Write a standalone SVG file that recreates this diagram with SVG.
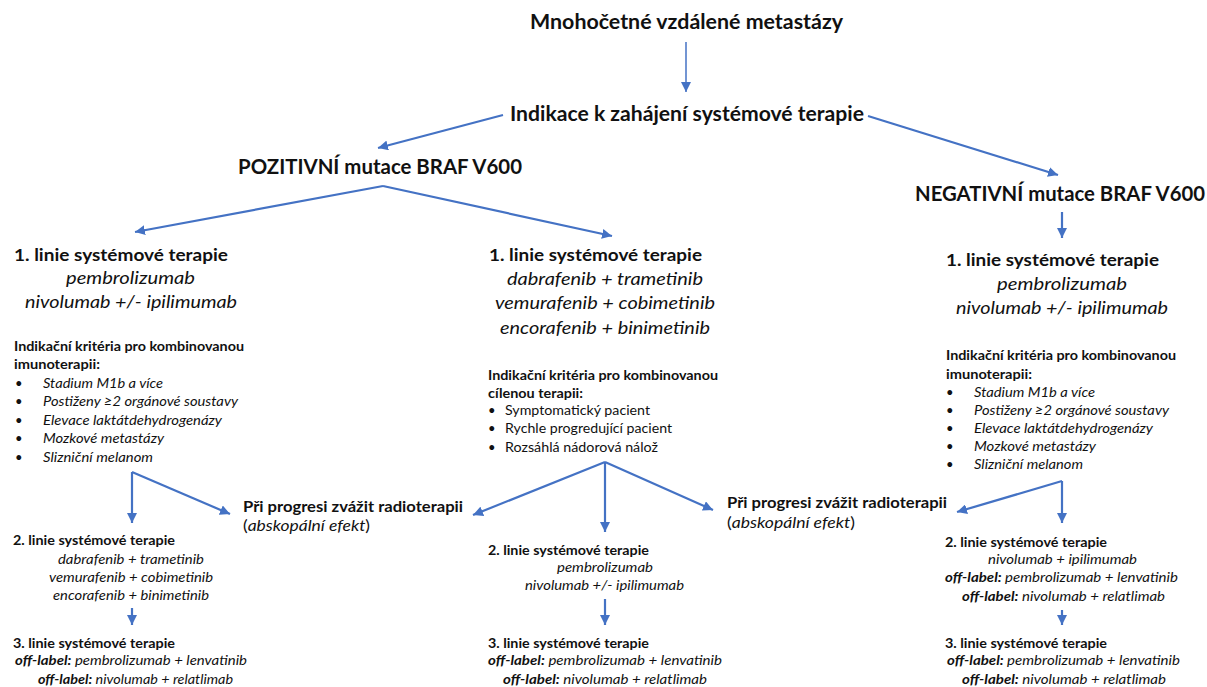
<svg xmlns="http://www.w3.org/2000/svg" width="1207" height="687" viewBox="0 0 1207 687">
<defs>
<marker id="ah" viewBox="0 0 10 10" refX="10" refY="5" markerUnits="userSpaceOnUse" markerWidth="10" markerHeight="10" orient="auto">
<path d="M0,0 L10,5 L0,10 z" fill="#4472C4"/>
</marker>
<style>
text{font-family:Lato,"Open Sans","Liberation Sans",sans-serif;fill:#111;}
.h{font-size:20px;font-weight:bold;}
.t1{font-size:17.5px;font-weight:bold;}
.d1{font-size:18px;font-style:italic;}
.k{font-size:13.5px;font-weight:bold;}
.bi{font-size:13px;font-style:italic;}
.bu{font-size:13px;}
.t2{font-size:13.5px;font-weight:bold;}
.d2{font-size:13px;font-style:italic;}
.ol{font-weight:bold;}
.r{font-size:16px;font-weight:bold;}
.re{font-size:16px;}
.c{fill:none;stroke:#4472C4;stroke-width:2.2;marker-end:url(#ah);}
.thin{stroke-width:1.5;}
</style>
</defs>
<rect width="1207" height="687" fill="#fff"/>
<g id="connectors">
<path class="c thin" d="M686,42 V92"/>
<path class="c" d="M503,115 L378,148"/>
<path class="c" d="M868,116 L1058,175"/>
<path class="c" d="M383,186 L135,232"/>
<path class="c" d="M383,186 L612,236"/>
<path class="c" d="M1062,212 V238"/>
<path class="c" d="M132,472 V523"/>
<path class="c" d="M132,472 L230,514"/>
<path class="c" d="M132,608 V625"/>
<path class="c" d="M605,462 L473,515"/>
<path class="c" d="M605,462 V532"/>
<path class="c" d="M605,462 L713,510"/>
<path class="c" d="M605,599 V625"/>
<path class="c" d="M1062,481 V523"/>
<path class="c" d="M1062,481 L957,512"/>
<path class="c" d="M1062,610 V625"/>
</g>
<g id="n-metastazy"><text class="h" x="530" y="29" textLength="313" lengthAdjust="spacingAndGlyphs">Mnohočetné vzdálené metastázy</text></g>
<g id="n-indikace"><text class="h" x="510" y="121" textLength="354" lengthAdjust="spacingAndGlyphs">Indikace k zahájení systémové terapie</text></g>
<g id="n-pozitivni"><text class="h" x="238" y="174" textLength="284" lengthAdjust="spacingAndGlyphs">POZITIVNÍ mutace BRAF V600</text></g>
<g id="n-negativni"><text class="h" x="915" y="201" textLength="290" lengthAdjust="spacingAndGlyphs">NEGATIVNÍ mutace BRAF V600</text></g>

<g id="n-left-1">
<text class="t1" x="14" y="261" textLength="214" lengthAdjust="spacingAndGlyphs">1. linie systémové terapie</text>
<text class="d1" x="66" y="284" textLength="129" lengthAdjust="spacingAndGlyphs">pembrolizumab</text>
<text class="d1" x="25" y="308" textLength="212" lengthAdjust="spacingAndGlyphs">nivolumab +/- ipilimumab</text>
<text class="k" x="14" y="351" textLength="230" lengthAdjust="spacingAndGlyphs">Indikační kritéria pro kombinovanou</text>
<text class="k" x="14" y="369" textLength="86" lengthAdjust="spacingAndGlyphs">imunoterapii:</text>
<text class="bu" x="15" y="388">•</text><text class="bi" x="43" y="388" textLength="120" lengthAdjust="spacingAndGlyphs">Stadium M1b a více</text>
<text class="bu" x="15" y="406">•</text><text class="bi" x="43" y="406" textLength="195" lengthAdjust="spacingAndGlyphs">Postiženy ≥2 orgánové soustavy</text>
<text class="bu" x="15" y="425">•</text><text class="bi" x="43" y="425" textLength="179" lengthAdjust="spacingAndGlyphs">Elevace laktátdehydrogenázy</text>
<text class="bu" x="15" y="443">•</text><text class="bi" x="43" y="443" textLength="121" lengthAdjust="spacingAndGlyphs">Mozkové metastázy</text>
<text class="bu" x="15" y="462">•</text><text class="bi" x="43" y="462" textLength="110" lengthAdjust="spacingAndGlyphs">Slizniční melanom</text>
</g>

<g id="n-mid-1">
<text class="t1" x="489" y="261" textLength="213" lengthAdjust="spacingAndGlyphs">1. linie systémové terapie</text>
<text class="d1" x="507" y="285" textLength="196" lengthAdjust="spacingAndGlyphs">dabrafenib + trametinib</text>
<text class="d1" x="495" y="309" textLength="220" lengthAdjust="spacingAndGlyphs">vemurafenib + cobimetinib</text>
<text class="d1" x="500" y="334" textLength="210" lengthAdjust="spacingAndGlyphs">encorafenib + binimetinib</text>
<text class="k" x="488" y="380" textLength="230" lengthAdjust="spacingAndGlyphs">Indikační kritéria pro kombinovanou</text>
<text class="k" x="488" y="398" textLength="95" lengthAdjust="spacingAndGlyphs">cílenou terapii:</text>
<text class="bu" x="488" y="415">•</text><text class="bu" x="505" y="415" textLength="145" lengthAdjust="spacingAndGlyphs">Symptomatický pacient</text>
<text class="bu" x="488" y="433">•</text><text class="bu" x="505" y="433" textLength="167" lengthAdjust="spacingAndGlyphs">Rychle progredující pacient</text>
<text class="bu" x="488" y="452">•</text><text class="bu" x="505" y="452" textLength="153" lengthAdjust="spacingAndGlyphs">Rozsáhlá nádorová nálož</text>
</g>

<g id="n-right-1">
<text class="t1" x="946" y="266" textLength="213" lengthAdjust="spacingAndGlyphs">1. linie systémové terapie</text>
<text class="d1" x="997" y="290" textLength="130" lengthAdjust="spacingAndGlyphs">pembrolizumab</text>
<text class="d1" x="956" y="314" textLength="212" lengthAdjust="spacingAndGlyphs">nivolumab +/- ipilimumab</text>
<text class="k" x="946" y="360" textLength="230" lengthAdjust="spacingAndGlyphs">Indikační kritéria pro kombinovanou</text>
<text class="k" x="946" y="379" textLength="86" lengthAdjust="spacingAndGlyphs">imunoterapii:</text>
<text class="bu" x="946" y="397">•</text><text class="bi" x="974" y="397" textLength="121" lengthAdjust="spacingAndGlyphs">Stadium M1b a více</text>
<text class="bu" x="946" y="415">•</text><text class="bi" x="974" y="415" textLength="195" lengthAdjust="spacingAndGlyphs">Postiženy ≥2 orgánové soustavy</text>
<text class="bu" x="946" y="433">•</text><text class="bi" x="974" y="433" textLength="179" lengthAdjust="spacingAndGlyphs">Elevace laktátdehydrogenázy</text>
<text class="bu" x="946" y="451">•</text><text class="bi" x="974" y="451" textLength="122" lengthAdjust="spacingAndGlyphs">Mozkové metastázy</text>
<text class="bu" x="946" y="469">•</text><text class="bi" x="974" y="469" textLength="109" lengthAdjust="spacingAndGlyphs">Slizniční melanom</text>
</g>

<g id="n-radio-left">
<text class="r" x="243" y="512" textLength="220" lengthAdjust="spacingAndGlyphs">Při progresi zvážit radioterapii</text>
<text class="re" x="243" y="531" textLength="127" lengthAdjust="spacingAndGlyphs">(<tspan font-style="italic">abskopální efekt</tspan>)</text>
</g>
<g id="n-radio-right">
<text class="r" x="727" y="508" textLength="220" lengthAdjust="spacingAndGlyphs">Při progresi zvážit radioterapii</text>
<text class="re" x="727" y="528" textLength="128" lengthAdjust="spacingAndGlyphs">(<tspan font-style="italic">abskopální efekt</tspan>)</text>
</g>

<g id="n-left-2">
<text class="t2" x="13" y="545" textLength="162" lengthAdjust="spacingAndGlyphs">2. linie systémové terapie</text>
<text class="d2" x="58" y="564" textLength="146" lengthAdjust="spacingAndGlyphs">dabrafenib + trametinib</text>
<text class="d2" x="49" y="582" textLength="164" lengthAdjust="spacingAndGlyphs">vemurafenib + cobimetinib</text>
<text class="d2" x="53" y="600" textLength="156" lengthAdjust="spacingAndGlyphs">encorafenib + binimetinib</text>
</g>
<g id="n-left-3">
<text class="t2" x="13" y="648" textLength="162" lengthAdjust="spacingAndGlyphs">3. linie systémové terapie</text>
<text class="d2" x="15" y="665" textLength="232" lengthAdjust="spacingAndGlyphs"><tspan class="ol">off-label:</tspan> pembrolizumab + lenvatinib</text>
<text class="d2" x="38" y="684" textLength="195" lengthAdjust="spacingAndGlyphs"><tspan class="ol">off-label:</tspan> nivolumab + relatlimab</text>
</g>

<g id="n-mid-2">
<text class="t2" x="488" y="555" textLength="161" lengthAdjust="spacingAndGlyphs">2. linie systémové terapie</text>
<text class="d2" x="557" y="572" textLength="96" lengthAdjust="spacingAndGlyphs">pembrolizumab</text>
<text class="d2" x="525" y="590" textLength="159" lengthAdjust="spacingAndGlyphs">nivolumab +/- ipilimumab</text>
</g>
<g id="n-mid-3">
<text class="t2" x="488" y="648" textLength="161" lengthAdjust="spacingAndGlyphs">3. linie systémové terapie</text>
<text class="d2" x="488" y="665" textLength="234" lengthAdjust="spacingAndGlyphs"><tspan class="ol">off-label:</tspan> pembrolizumab + lenvatinib</text>
<text class="d2" x="503" y="684" textLength="204" lengthAdjust="spacingAndGlyphs"><tspan class="ol">off-label:</tspan> nivolumab + relatlimab</text>
</g>

<g id="n-right-2">
<text class="t2" x="945" y="547" textLength="162" lengthAdjust="spacingAndGlyphs">2. linie systémové terapie</text>
<text class="d2" x="988" y="564" textLength="149" lengthAdjust="spacingAndGlyphs">nivolumab + ipilimumab</text>
<text class="d2" x="945" y="582" textLength="233" lengthAdjust="spacingAndGlyphs"><tspan class="ol">off-label:</tspan> pembrolizumab + lenvatinib</text>
<text class="d2" x="962" y="601" textLength="203" lengthAdjust="spacingAndGlyphs"><tspan class="ol">off-label:</tspan> nivolumab + relatlimab</text>
</g>
<g id="n-right-3">
<text class="t2" x="945" y="648" textLength="162" lengthAdjust="spacingAndGlyphs">3. linie systémové terapie</text>
<text class="d2" x="947" y="665" textLength="233" lengthAdjust="spacingAndGlyphs"><tspan class="ol">off-label:</tspan> pembrolizumab + lenvatinib</text>
<text class="d2" x="962" y="684" textLength="204" lengthAdjust="spacingAndGlyphs"><tspan class="ol">off-label:</tspan> nivolumab + relatlimab</text>
</g>
</svg>
